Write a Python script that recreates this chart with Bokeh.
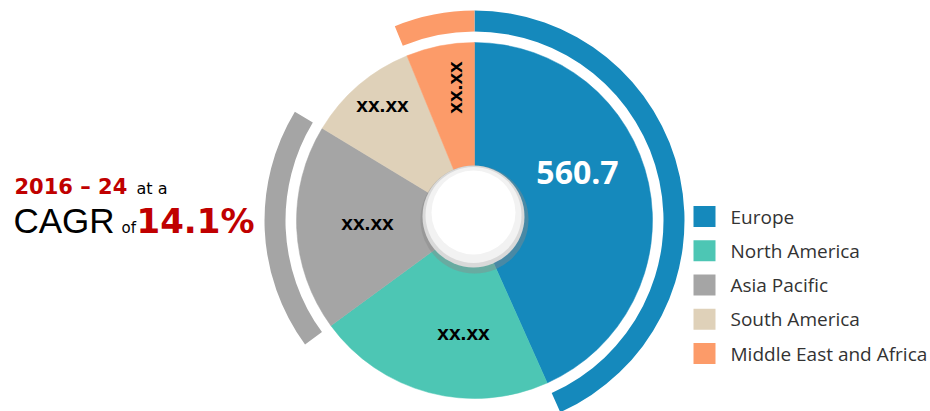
import math
from bokeh.plotting import figure
from bokeh.models import Range1d, ColumnDataSource
from bokeh.core.properties import value
from bokeh.embed import file_html
from bokeh.resources import INLINE

# ---------------- data ----------------
regions = ["Europe", "North America", "Asia Pacific", "South America", "Middle East and Africa"]
values = [560.7, 280.2, 242.4, 131.3, 80.2]
slice_labels = ["560.7", "xx.xx", "xx.xx", "xx.xx", "xx.xx"]
highlighted = ["Europe", "Asia Pacific", "Middle East and Africa"]
colors = ["#1589BC", "#4DC6B4", "#A5A5A5", "#DFD1B9", "#FC9B69"]
cagr_period = "2016 – 24"
cagr_rate = "14.1%"

# ---------------- layout ----------------
W, H = 930, 411
def Y(py):  # page pixel row -> data y
    return H - py

CX, CY = 474, Y(220)
R_PIE = 178
R_RING_IN, R_RING_OUT = 189, 210

p = figure(width=W, height=H, output_backend="svg", toolbar_location=None,
           x_range=Range1d(0, W), y_range=Range1d(0, H),
           x_axis_type=None, y_axis_type=None, min_border=0)
p.grid.grid_line_color = None
p.outline_line_color = None
p.background_fill_color = "white"

total = sum(values)
starts, ends = [], []
cum = 0.0
for v in values:
    starts.append(math.pi / 2 - 2 * math.pi * cum / total)
    cum += v
    ends.append(math.pi / 2 - 2 * math.pi * cum / total)

src = ColumnDataSource(dict(region=regions, value=values, start=starts, end=ends, color=colors))
p.wedge(x=CX, y=CY, radius=R_PIE, start_angle="start", end_angle="end", direction="clock",
        fill_color="color", line_color="color", line_width=0.5, source=src)

ring = ColumnDataSource(dict(
    start=[s for s, r in zip(starts, regions) if r in highlighted],
    end=[e for e, r in zip(ends, regions) if r in highlighted],
    color=[c for c, r in zip(colors, regions) if r in highlighted]))
p.annular_wedge(x=CX, y=CY, inner_radius=R_RING_IN, outer_radius=R_RING_OUT,
                start_angle="start", end_angle="end", direction="clock",
                fill_color="color", line_color=None, source=ring)

# centre "button"
BX, BY = 473, Y(216)
p.circle(x=BX + 1, y=BY - 3, radius=54, fill_color="#8a8a8a", fill_alpha=0.45, line_color=None)
p.circle(x=BX, y=BY, radius=51, fill_color="#d9d9d9", line_color=None)
p.circle(x=BX, y=BY + 1.5, radius=48, fill_color="#f2f2f2", line_color=None)
p.circle(x=BX, y=BY + 4, radius=42, fill_color="white", line_color=None)

# slice labels
label_pos = [(577, 172), (463, 332), (367, 222), (382, 104), (454, 87)]
label_angle = [0, 0, 0, 0, math.pi / 2]
lx = [q[0] for q in label_pos]
ly = [Y(q[1]) for q in label_pos]
p.text(x=lx[:1], y=ly[:1], text=slice_labels[:1], angle=label_angle[:1],
       text_font=value("Open Sans"), text_font_style="bold", text_font_size="32px",
       text_color="white", text_align="center", text_baseline="middle")
p.text(x=lx[1:], y=ly[1:], text=slice_labels[1:], angle=label_angle[1:],
       text_font=value("Liberation Sans"), text_font_style="bold", text_font_size="21px",
       text_color="black", text_align="center", text_baseline="middle")

# legend
leg_y = [216 + 34.25 * i for i in range(len(regions))]
p.rect(x=704, y=[Y(v) for v in leg_y], width=22, height=21, fill_color=colors, line_color=None)
p.text(x=730, y=[Y(v) for v in leg_y], text=regions, text_font=value("Open Sans"),
       text_font_size="19px", text_color="#333333", text_baseline="middle", text_align="left")

# CAGR annotation
red = "#C00000"
p.text(x=[14], y=[Y(186.5)], text=[cagr_period], text_font=value("DejaVu Sans"), text_font_style="bold",
       text_font_size="21px", text_color=red, text_baseline="middle")
p.text(x=[136], y=[Y(187.5)], text=["at a"], text_font=value("DejaVu Sans"),
       text_font_size="16px", text_color="black", text_baseline="middle")
p.text(x=[13], y=[Y(220)], text=["CAGR"], text_font=value("Liberation Sans"),
       text_font_size="35px", text_color="black", text_baseline="middle")
p.text(x=[121], y=[Y(227)], text=["of"], text_font=value("DejaVu Sans"),
       text_font_size="15px", text_color="black", text_baseline="middle")
p.text(x=[136], y=[Y(220)], text=[cagr_rate], text_font=value("DejaVu Sans"), text_font_style="bold",
       text_font_size="34px", text_color=red, text_baseline="middle")

open("out.html", "w", encoding="utf-8").write(file_html(p, INLINE))
